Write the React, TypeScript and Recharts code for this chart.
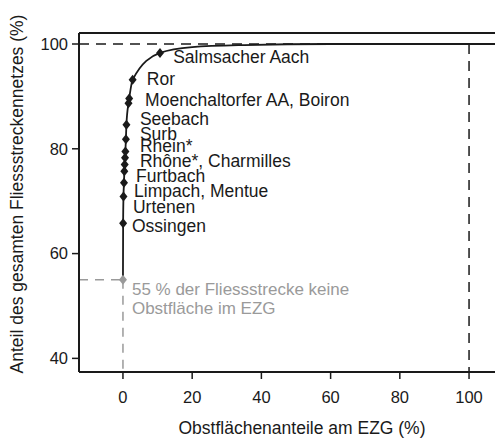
import { ComposedChart, Line, Scatter, XAxis, YAxis, ReferenceLine } from "recharts";

const X_MIN = -12.7;
const X_MAX = 107.5;
const Y_MIN = 37.4;
const Y_MAX = 102.1;

const xTicks = [0, 20, 40, 60, 80, 100];
const yTicks = [40, 60, 80, 100];

// cumulative curve (share of network vs. orchard share)
const curveX = [0, 0.05, 0.15, 0.3, 0.4, 0.5, 0.6, 0.7, 0.85, 1.0, 1.6, 1.8, 2.8, 10.7, 20, 35, 60, 107.5];
const curveY = [55, 65.8, 70.9, 73.5, 75.7, 77.0, 78.3, 79.5, 81.8, 84.6, 88.7, 89.6, 93.2, 98.3, 99.4, 99.8, 100, 100];

// named catchments (diamonds)
const pointX = [0.05, 0.15, 0.3, 0.4, 0.5, 0.6, 0.7, 0.85, 1.0, 1.6, 1.8, 2.8, 10.7];
const pointY = [65.8, 70.9, 73.5, 75.7, 77.0, 78.3, 79.5, 81.8, 84.6, 88.7, 89.6, 93.2, 98.3];

const labelText = [
  "Salmsacher Aach",
  "Ror",
  "Moenchaltorfer AA, Boiron",
  "Seebach",
  "Surb",
  "Rhein*",
  "Rhône*, Charmilles",
  "Furtbach",
  "Limpach, Mentue",
  "Urtenen",
  "Ossingen",
];
const labelX = [14.5, 6.9, 6.4, 4.9, 4.9, 4.9, 4.9, 3.8, 3.2, 2.9, 2.6];
const labelY = [97.5, 93.3, 89.3, 85.7, 82.8, 80.5, 77.6, 74.8, 71.9, 68.8, 65.2];

const noteText = ["55 % der Fliessstrecke keine", "Obstfläche im EZG"];
const noteX = [2.6, 2.6];
const noteY = [53.2, 49.5];

const startPoint = [{ x: 0, y: 55 }];

const curveData = curveX.map((x, i) => ({ x, y: curveY[i] }));
const pointData = pointX.map((x, i) => ({ x, y: pointY[i] }));
const labelData = labelText.map((t, i) => ({ x: labelX[i], y: labelY[i], t }));
const noteData = noteText.map((t, i) => ({ x: noteX[i], y: noteY[i], t }));

const FONT = "'Liberation Sans', Arial, sans-serif";
const INK = "#1a1a1a";
const GREY = "#9a9a9a";

const Diamond = ({ cx, cy, fill }: any) => (
  <polygon
    points={`${cx},${cy - 5} ${cx + 4},${cy} ${cx},${cy + 5} ${cx - 4},${cy}`}
    fill={fill}
  />
);

const makeText = (color: string, size: number) => ({ cx, cy, payload }: any) => (
  <text
    x={cx}
    y={cy}
    fill={color}
    fontSize={size}
    fontFamily={FONT}
    dominantBaseline="central"
  >
    {payload.t}
  </text>
);

const YTitle = () => (
  <text
    x={17}
    y={194}
    transform="rotate(-90, 17, 194)"
    textAnchor="middle"
    dominantBaseline="central"
    fontSize={17.5}
    fontFamily={FONT}
    fill={INK}
  >
    Anteil des gesamten Fliessstreckennetzes  (%)
  </text>
);

const XTitle = () => (
  <text
    x={302}
    y={428}
    textAnchor="middle"
    dominantBaseline="central"
    fontSize={17.5}
    fontFamily={FONT}
    fill={INK}
  >
    Obstflächenanteile am EZG (%)
  </text>
);

export default function App() {
  return (
    <div style={{ position: "absolute", left: 0, top: 0, background: "#fff" }}>
      <ComposedChart
        width={495}
        height={439}
        margin={{ top: 33, right: 0, bottom: 0, left: 0 }}
      >
        <XAxis
          dataKey="x"
          type="number"
          domain={[X_MIN, X_MAX]}
          ticks={xTicks}
          allowDataOverflow
          height={67}
          tickSize={7}
          tickMargin={12}
          tick={{ fontSize: 16.5, fill: INK, fontFamily: FONT }}
          axisLine={{ stroke: INK, strokeWidth: 2 }}
          tickLine={{ stroke: INK, strokeWidth: 1.5 }}
          label={<XTitle />}
        />
        <YAxis
          dataKey="y"
          type="number"
          domain={[Y_MIN, Y_MAX]}
          ticks={yTicks}
          allowDataOverflow
          width={79}
          tickSize={7}
          tickMargin={4}
          tick={{ fontSize: 16.5, fill: INK, fontFamily: FONT }}
          axisLine={{ stroke: INK, strokeWidth: 2 }}
          tickLine={{ stroke: INK, strokeWidth: 1.5 }}
          label={<YTitle />}
        />
        <ReferenceLine y={Y_MAX} stroke={INK} strokeWidth={2} />
        <ReferenceLine
          segment={[{ x: X_MIN, y: 100 }, { x: 100, y: 100 }]}
          stroke={INK}
          strokeWidth={1.5}
          strokeDasharray="10 7"
        />
        <ReferenceLine
          segment={[{ x: 100, y: 100 }, { x: 100, y: Y_MIN }]}
          stroke={INK}
          strokeWidth={1.5}
          strokeDasharray="10 7"
        />
        <ReferenceLine
          segment={[{ x: X_MIN, y: 55 }, { x: 0, y: 55 }]}
          stroke={GREY}
          strokeWidth={1.5}
          strokeDasharray="9 7"
        />
        <ReferenceLine
          segment={[{ x: 0, y: 55 }, { x: 0, y: Y_MIN }]}
          stroke={GREY}
          strokeWidth={1.5}
          strokeDasharray="9 7"
        />
        <Line
          data={curveData}
          dataKey="y"
          type="monotone"
          stroke={INK}
          strokeWidth={1.8}
          dot={false}
          activeDot={false}
          isAnimationActive={false}
        />
        <Scatter
          data={startPoint}
          dataKey="y"
          fill={GREY}
          shape={<Diamond />}
          isAnimationActive={false}
        />
        <Scatter
          data={pointData}
          dataKey="y"
          fill={INK}
          shape={<Diamond />}
          isAnimationActive={false}
        />
        <Scatter
          data={labelData}
          dataKey="y"
          shape={makeText(INK, 17.5)}
          isAnimationActive={false}
        />
        <Scatter
          data={noteData}
          dataKey="y"
          shape={makeText(GREY, 17)}
          isAnimationActive={false}
        />
      </ComposedChart>
    </div>
  );
}
